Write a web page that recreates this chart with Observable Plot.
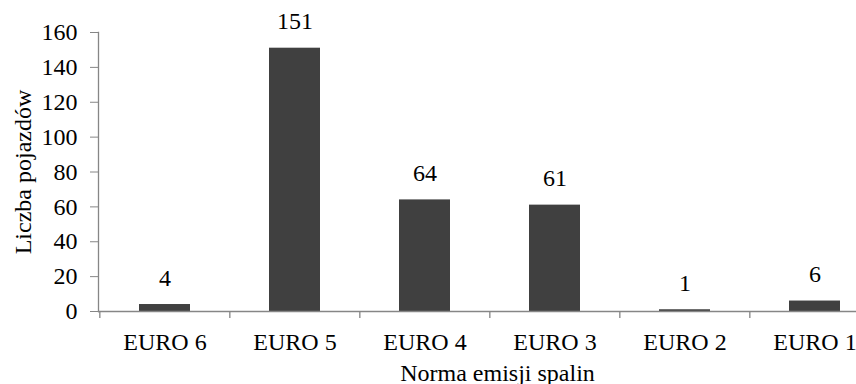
<!DOCTYPE html>
<html>
<head>
<meta charset="utf-8">
<script src="https://cdn.jsdelivr.net/npm/d3@7"></script>
<script src="https://cdn.jsdelivr.net/npm/@observablehq/plot@0.6"></script>
<style>
  html, body { margin: 0; padding: 0; background: #fff; }
  #chart svg, #chart svg text { font-family: "Liberation Serif", "Times New Roman", serif !important; }
</style>
</head>
<body>
<div id="chart"></div>
<script>
const categories = ["EURO 6", "EURO 5", "EURO 4", "EURO 3", "EURO 2", "EURO 1"];
const counts = [4, 151, 64, 61, 1, 6];
const yTicks = [0, 20, 40, 60, 80, 100, 120, 140, 160];
const xTitle = "Norma emisji spalin";
const yTitle = "Liczba pojazdów";

const data = categories.map((c, i) => ({category: c, value: counts[i]}));

const W = 856, H = 384;
const left = 98, right = 880;
const step = (right - left) / categories.length;
const axisColor = "#868686";
const fs = 24;

const chart = Plot.plot({
  width: W,
  height: H,
  marginLeft: left,
  marginRight: 0,
  marginTop: 32,
  marginBottom: 73,
  style: `font-family: 'Liberation Serif', 'Times New Roman', serif; font-size: ${fs}px; color: #000; background: #fff; overflow: hidden;`,
  x: {domain: categories, range: [left, right], paddingInner: 0.61, paddingOuter: 0.305},
  y: {domain: [0, 160], ticks: yTicks},
  marks: [
    Plot.barY(data, {x: "category", y: "value", fill: "#404040"}),
    Plot.ruleY([0], {stroke: axisColor, strokeWidth: 1.3}),
    Plot.frame({anchor: "left", stroke: axisColor, strokeWidth: 1.3}),
    Plot.ruleX(categories, {x: d => d, dx: -step / 2, y1: 0, y2: -4, stroke: axisColor, strokeWidth: 1.3}),
    Plot.axisY({ticks: yTicks, tickSize: 8, tickPadding: 13, stroke: axisColor, fontSize: fs, fill: "#000", label: null}),
    Plot.axisX({tickSize: 0, tickPadding: 21, fontSize: fs, fill: "#000", label: null}),
    Plot.text(data, {x: "category", y: "value", text: d => String(d.value), lineAnchor: "bottom", dy: -19, fontSize: fs, fill: "#000"}),
    Plot.text([xTitle], {frameAnchor: "bottom", text: d => d, textAnchor: "middle", dx: 20, dy: 69, lineAnchor: "bottom", fontSize: fs, fill: "#000"}),
    Plot.text([yTitle], {frameAnchor: "left", text: d => d, textAnchor: "middle", rotate: -90, dx: -68, lineAnchor: "bottom", fontSize: fs, fill: "#000"})
  ]
});
document.getElementById("chart").appendChild(chart);
</script>
</body>
</html>
